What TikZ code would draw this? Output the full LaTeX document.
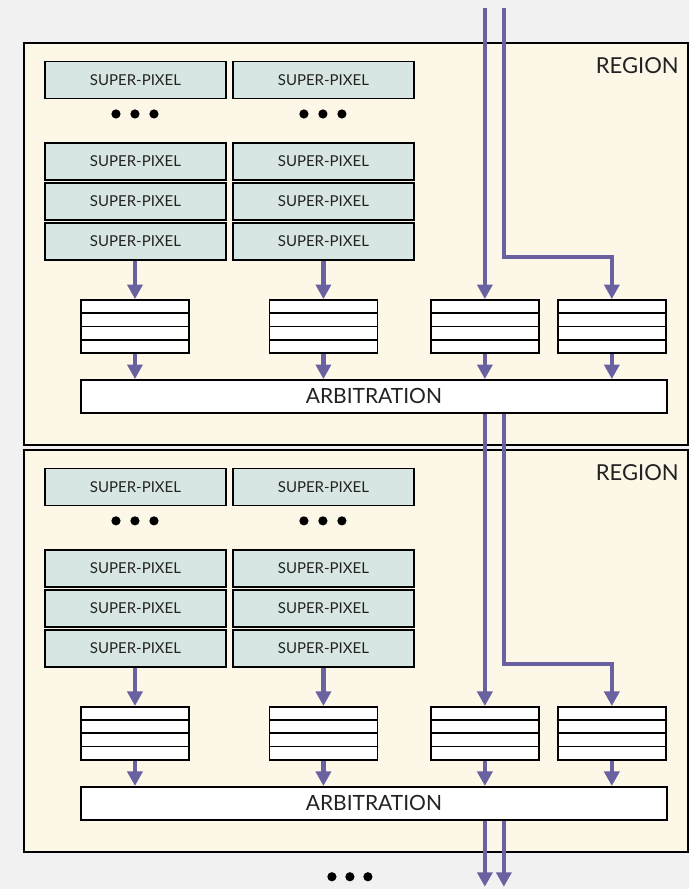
\documentclass[tikz,border=0pt]{standalone}
\usepackage{fontspec}
\setmainfont{Lato}
\usetikzlibrary{arrows.meta,calc}
\definecolor{bggray}{RGB}{241,241,241}
\definecolor{regionfill}{RGB}{253,247,232}
\definecolor{pixfill}{RGB}{215,230,226}
\definecolor{busline}{RGB}{106,98,160}
\definecolor{inktext}{RGB}{34,34,34}
\begin{document}
\begin{tikzpicture}[x=1pt,y=1pt]
            \tikzstyle{every node}+=[inner sep=0pt]
            \tikzstyle{region}=[draw=black, line width=1.8pt, fill=regionfill, minimum width=664pt, minimum height=402pt]
            \tikzstyle{pixel}=[draw=black, line width=1.7pt, fill=pixfill, minimum width=181pt, minimum height=37pt, text=inktext, font=\fontsize{15}{18}\selectfont]
            \tikzstyle{fifo}=[draw=black, line width=1.7pt, fill=white, minimum width=108pt, minimum height=53pt,
              path picture={\foreach \k in {1,2,3}
                \draw [black, line width=1.7pt] ($(path picture bounding box.south west)!\k/4!(path picture bounding box.north west)$) -- ++(120pt,0);}]
            \tikzstyle{arbiter}=[draw=black, line width=1.7pt, fill=white, minimum width=586pt, minimum height=33pt, text=inktext, font=\fontsize{21}{25}\selectfont]
            \tikzstyle{bus}=[busline, line width=4.5pt, -{Triangle[width=15pt,length=14.5pt]}]
            \fill [bggray] (0,0) rectangle (689,-889);
            \foreach \r/\dy in {1/0,2/407} {
              \node [region] (reg\r) at (356,-244-\dy) {};
              \node [anchor=base east, text=inktext, font=\fontsize{22}{26}\selectfont] (lbl\r) at (679,-74-\dy) {REGION};
              \node [pixel] (sp\r a0) at (135.5,-80-\dy) {SUPER-PIXEL};
              \node [pixel] (sp\r b0) at (323.5,-80-\dy) {SUPER-PIXEL};
              \node [pixel] (sp\r a1) at (135.5,-161.5-\dy) {SUPER-PIXEL};
              \node [pixel] (sp\r b1) at (323.5,-161.5-\dy) {SUPER-PIXEL};
              \node [pixel] (sp\r a2) at (135.5,-201.5-\dy) {SUPER-PIXEL};
              \node [pixel] (sp\r b2) at (323.5,-201.5-\dy) {SUPER-PIXEL};
              \node [pixel] (sp\r a3) at (135.5,-241.5-\dy) {SUPER-PIXEL};
              \node [pixel] (sp\r b3) at (323.5,-241.5-\dy) {SUPER-PIXEL};
              \foreach \cx in {116,135,154,304,323,342}
                \fill [black] (\cx,-114-\dy) circle (4.6);
              \node [fifo] (fifo\r a) at (135,-326.5-\dy) {};
              \node [fifo] (fifo\r b) at (323.5,-326.5-\dy) {};
              \node [fifo] (fifo\r c) at (485,-326.5-\dy) {};
              \node [fifo] (fifo\r d) at (612,-326.5-\dy) {};
              \node [arbiter] (arb\r) at (374,-396.5-\dy) {ARBITRATION};
              \draw [bus] (fifo\r a |- sp\r a3.south) -- (fifo\r a.north);
              \draw [bus] (fifo\r b |- sp\r b3.south) -- (fifo\r b.north);
              \foreach \f in {a,b,c,d}
                \draw [bus] (fifo\r\f.south) -- (fifo\r\f.south |- arb\r.north);
              \coordinate (bend\r) at (504,-257-\dy);
            }
            % buses through the regions
            \coordinate (inc) at (485,-8);
            \coordinate (ind) at (504,-8);
            \coordinate (outc) at (485,-887);
            \coordinate (outd) at (504,-887);
            \draw [bus] (inc) -- (fifo1c.north);
            \draw [bus] (ind) -- (bend1) -| (fifo1d.north);
            \draw [bus] (arb1.south -| inc) -- (fifo2c.north);
            \draw [bus] (arb1.south -| ind) -- (bend2) -| (fifo2d.north);
            \draw [bus] (arb2.south -| inc) -- (outc);
            \draw [bus] (arb2.south -| ind) -- (outd);
            \foreach \cx in {332,350,368}
              \fill [black] (\cx,-877) circle (4.6);
\end{tikzpicture}
\end{document}
